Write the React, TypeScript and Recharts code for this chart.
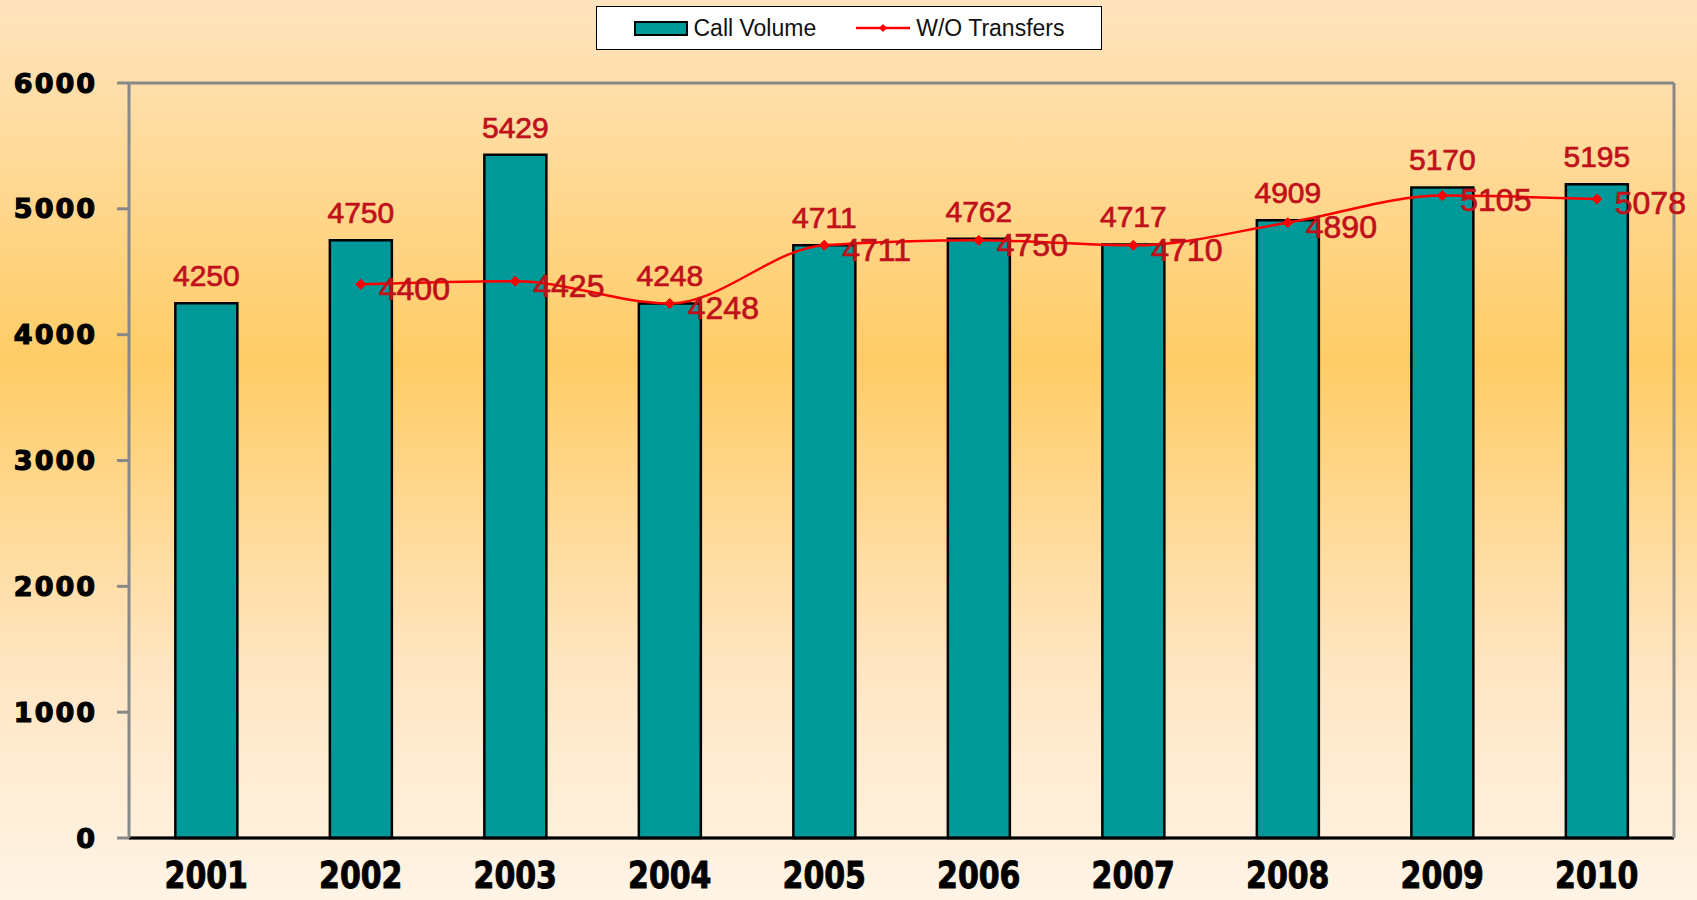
import { ComposedChart, Bar, Line, XAxis, YAxis, CartesianGrid, LabelList } from 'recharts';

const years = ['2001', '2002', '2003', '2004', '2005', '2006', '2007', '2008', '2009', '2010'];
const callVolume = [4250, 4750, 5429, 4248, 4711, 4762, 4717, 4909, 5170, 5195];
const withoutTransfers = [null, 4400, 4425, 4248, 4711, 4750, 4710, 4890, 5105, 5078];
const yTicks = [0, 1000, 2000, 3000, 4000, 5000, 6000];

const data = years.map((year, i) => ({
  year,
  calls: callVolume[i],
  woTransfers: withoutTransfers[i] ?? undefined,
}));

const labelRed = '#C0101A';
const bg = 'linear-gradient(to bottom, #FFE4BF 0%, #FFCC66 40%, #FFE6C4 75%, #FFF4E6 100%)';
const heavyFont = '"DejaVu Sans", sans-serif';
const labelFont = '"Liberation Sans", Arial, sans-serif';

// small red diamond for the line markers
function Diamond(props: any) {
  const { cx, cy } = props;
  if (cx == null || cy == null) return null;
  const s = 5;
  return (
    <path
      d={`M${cx},${cy - s} L${cx + s},${cy} L${cx},${cy + s} L${cx - s},${cy} Z`}
      fill="#FF0000"
      stroke="#FF0000"
    />
  );
}

// year labels are tall and heavy in the original, so stretch them a bit
function YearTick(props: any) {
  const { x, y, payload } = props;
  return (
    <g transform={`translate(${x},${y + 13}) scale(1,1.25)`}>
      <text
        x={0}
        y={0}
        dy={12}
        textAnchor="middle"
        fill="#000"
        stroke="#000"
        strokeWidth={0.8}
        fontSize={30}
        fontWeight="bold"
        fontFamily={heavyFont}
      >
        {payload.value}
      </text>
    </g>
  );
}

function ChartLegend() {
  return (
    <div
      style={{
        position: 'absolute',
        left: 596,
        top: 6,
        width: 506,
        height: 44,
        boxSizing: 'border-box',
        background: '#fff',
        border: '1.5px solid #000',
        display: 'flex',
        alignItems: 'center',
        justifyContent: 'center',
        gap: 40,
        fontFamily: labelFont,
        fontSize: 23,
        color: '#111',
      }}
    >
      <span style={{ display: 'flex', alignItems: 'center', gap: 6 }}>
        <span
          style={{
            display: 'inline-block',
            width: 50,
            height: 11,
            background: '#009999',
            border: '2px solid #000',
          }}
        />
        Call Volume
      </span>
      <span style={{ display: 'flex', alignItems: 'center', gap: 6 }}>
        <svg width={54} height={12}>
          <line x1={0} y1={6} x2={54} y2={6} stroke="#FF0000" strokeWidth={2.5} />
          <path d="M27,2 L31,6 L27,10 L23,6 Z" fill="#FF0000" />
        </svg>
        W/O Transfers
      </span>
    </div>
  );
}

export default function App() {
  return (
    <div style={{ position: 'relative', width: 1697, height: 900, background: bg, overflow: 'hidden' }}>
      <style>{'body{margin:0}'}</style>
      <ComposedChart
        width={1697}
        height={900}
        data={data}
        margin={{ top: 83, right: 22, bottom: 0, left: 0 }}
        barCategoryGap="30%"
      >
        <CartesianGrid vertical={false} stroke="#888888" strokeWidth={3} />
        <XAxis
          dataKey="year"
          height={62}
          axisLine={{ stroke: '#000', strokeWidth: 3 }}
          tickLine={false}
          tickMargin={16}
          tick={<YearTick />}
        />
        <YAxis
          yAxisId="left"
          width={129}
          domain={[0, 6000]}
          ticks={yTicks}
          interval={0}
          axisLine={{ stroke: '#888888', strokeWidth: 3 }}
          tickLine={{ stroke: '#888888', strokeWidth: 3 }}
          tickSize={12}
          tickMargin={20}
          tick={{
            fill: '#000',
            stroke: '#000',
            strokeWidth: 1.2,
            fontSize: 27,
            fontWeight: 'bold',
            fontFamily: heavyFont,
            letterSpacing: 2,
          }}
        />
        <YAxis
          yAxisId="right"
          orientation="right"
          width={1}
          domain={[0, 6000]}
          tick={false}
          tickLine={false}
          axisLine={{ stroke: '#888888', strokeWidth: 3 }}
        />
        <Bar
          yAxisId="left"
          dataKey="calls"
          name="Call Volume"
          fill="#009999"
          stroke="#000"
          strokeWidth={2.5}
          isAnimationActive={false}
        >
          <LabelList
            dataKey="calls"
            position="top"
            offset={17}
            fill={labelRed}
            stroke={labelRed}
            strokeWidth={0.7}
            fontSize={30}
            fontFamily={labelFont}
          />
        </Bar>
        <Line
          yAxisId="left"
          type="monotone"
          dataKey="woTransfers"
          name="W/O Transfers"
          stroke="#FF0000"
          strokeWidth={2.5}
          dot={<Diamond />}
          activeDot={false}
          isAnimationActive={false}
        >
          <LabelList
            dataKey="woTransfers"
            position="right"
            offset={18}
            dy={4}
            fill={labelRed}
            stroke={labelRed}
            strokeWidth={0.7}
            fontSize={32}
            fontFamily={labelFont}
          />
        </Line>
      </ComposedChart>
      <ChartLegend />
    </div>
  );
}
